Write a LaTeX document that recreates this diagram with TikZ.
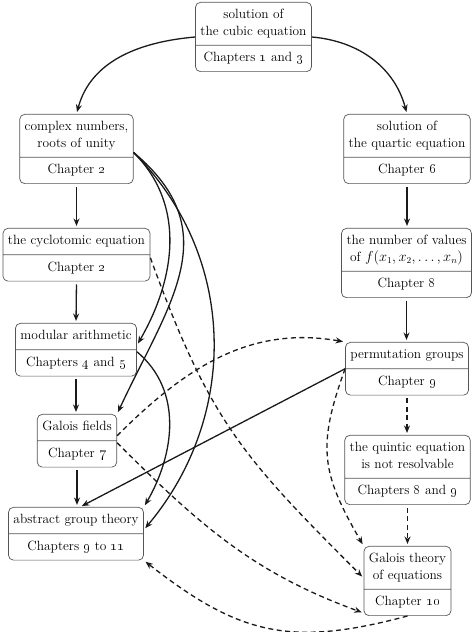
\documentclass[tikz,border=0pt]{standalone}
\usetikzlibrary{shapes.multipart,arrows.meta}
\newcommand{\osn}[1]{\oldstylenums{#1}}
\definecolor{boxline}{HTML}{555555}
\definecolor{ink}{HTML}{1A1A1A}
\tikzset{
  box/.style={rectangle split, rectangle split parts=2, draw=boxline, line width=0.7pt,
    rounded corners=5pt, align=center, inner xsep=5pt, inner ysep=4.6pt, anchor=north,
    font=\fontsize{13.4}{16.5}\selectfont},
  arr/.style={-{Stealth[length=7.5pt,width=6pt]}, line width=1.3pt, draw=ink, shorten >=2pt},
  dsh/.style={arr, dash pattern=on 5pt off 3.5pt},
}
\begin{document}
\begin{tikzpicture}[x=1pt,y=1pt]
\useasboundingbox (0,0) rectangle (475,632);
\node[box] (top) at (253.5,630) {\strut solution of\\\strut the cubic equation\nodepart{two}\strut Chapters \osn{1} and \osn{3}};
\node[box] (cpx) at (76.5,518) {\strut complex numbers,\\\strut roots of unity\nodepart{two}\strut Chapter \osn{2}};
\node[box] (cyc) at (76.5,404) {\strut the cyclotomic equation\nodepart{two}\strut Chapter \osn{2}};
\node[box] (mod) at (76,309) {\strut modular arithmetic\nodepart{two}\strut Chapters \osn{4} and \osn{5}};
\node[box] (gf) at (77,218) {\strut Galois fields\nodepart{two}\strut Chapter \osn{7}};
\node[box] (abs) at (76,125) {\strut abstract group theory\nodepart{two}\strut Chapters \osn{9} to \osn{11}};
\node[box] (qrt) at (407,518) {\strut solution of\\\strut the quartic equation\nodepart{two}\strut Chapter \osn{6}};
\node[box] (nov) at (406.5,404) {\strut the number of values\\\strut of $f(x_1,x_2,\ldots,x_n)$\nodepart{two}\strut Chapter \osn{8}};
\node[box] (prm) at (407,290) {\strut permutation groups\nodepart{two}\strut Chapter \osn{9}};
\node[box] (qnt) at (407.5,197) {\strut the quintic equation\\\strut is not resolvable\nodepart{two}\strut Chapters \osn{8} and \osn{9}};
\node[box] (gt) at (407.5,86) {\strut Galois theory\\\strut of equations\nodepart{two}\strut Chapter \osn{10}};

% top arrows
\draw[arr] (top.west) to[out=185,in=75] (cpx.north);
\draw[arr] (top.east) to[out=-5,in=105] (qrt.north);
% vertical solid
\draw[arr, shorten <=3pt] (cpx.south) -- (cyc.north);
\draw[arr, shorten <=3pt] (cyc.south) -- (mod.north);
\draw[arr, shorten <=3pt] (mod.south) -- (mod.south |- gf.north);
\draw[arr, shorten <=3pt] (gf.south) -- (gf.south |- abs.north);
\draw[arr, shorten <=3pt] (qrt.south) -- (qrt.south |- nov.north);
\draw[arr, shorten <=3pt] (nov.south) -- (nov.south |- prm.north);
% vertical dashed
\draw[dsh, shorten <=3pt] (prm.south) -- (prm.south |- qnt.north);
\draw[dsh, shorten <=3pt] (qnt.south) -- (qnt.south |- gt.north);
% curves from complex numbers
\coordinate (cs) at ([yshift=-3.5pt]cpx.east);
\draw[arr] (cs) to[out=-45,in=60] ([yshift=4.5pt]mod.east);
\draw[arr] (cs) to[out=-40,in=65,looseness=1.2] (gf.north east);
\draw[arr] (cs) to[out=-45,in=50] ([yshift=4pt]abs.east);
\draw[arr] ([yshift=-2pt]mod.east) to[out=-40,in=60] (abs.north east);
% permutation groups to abstract group theory
\draw[arr] (prm.west) -- ([xshift=4pt]abs.north);
% dashed connectors
\draw[dsh] ([yshift=-3pt]cyc.east) to[out=-70,in=135,looseness=1.15] ([yshift=3pt]gt.west);
\draw[dsh] ([yshift=5pt]gf.east) to[out=45,in=170] (prm.north west);
\draw[dsh] ([yshift=-2pt]gf.east) to[out=-45,in=160] ([yshift=3pt]gt.south west);
\draw[dsh] (prm.west) to[out=250,in=120,looseness=1.2] (gt.north west);
\draw[dsh] (gt.south) to[out=195,in=-38,looseness=1.15] (abs.south east);
\end{tikzpicture}
\end{document}
